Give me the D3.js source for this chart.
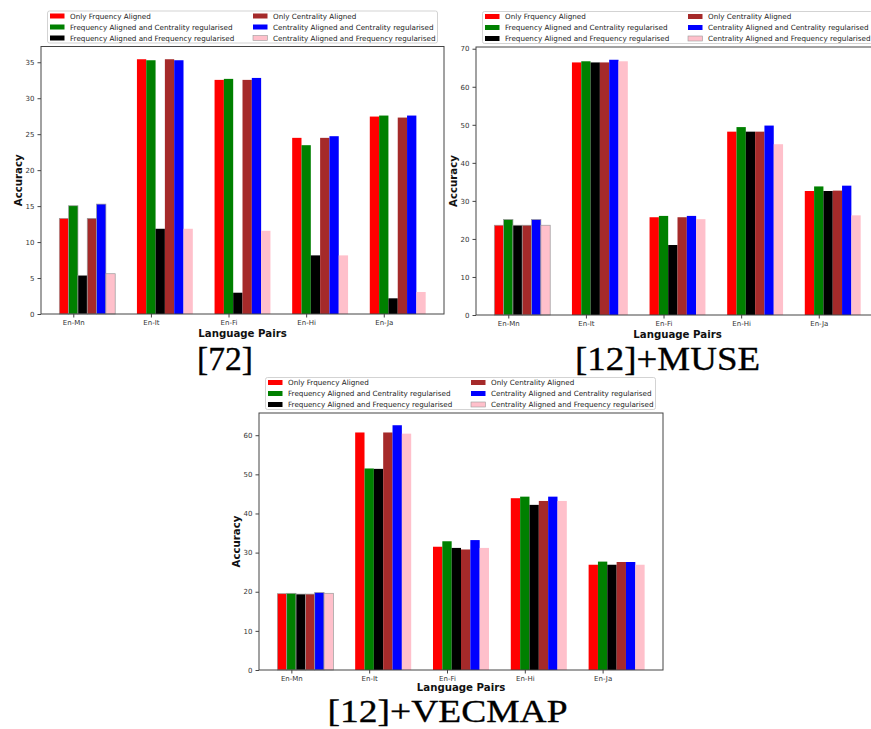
<!DOCTYPE html>
<html><head><meta charset="utf-8">
<script src="https://cdn.jsdelivr.net/npm/d3@7"></script>
<style>body{margin:0;background:#fff}svg{display:block}</style>
</head><body>
<script>
// ---------- data ----------
const categories = ["En-Mn", "En-It", "En-Fi", "En-Hi", "En-Ja"];
const seriesNames = [
  "Only Frquency Aligned",
  "Frequency Aligned and Centrality regularised",
  "Frequency Aligned and Frequency regularised",
  "Only Centrality Aligned",
  "Centrality Aligned and Centrality regularised",
  "Centrality Aligned and Frequency regularised"
];
const panelTitles = ["[72]", "[12]+MUSE", "[12]+VECMAP"];

// [72]
const onlyFreq72   = [13.3, 35.42, 32.55, 24.49, 27.45];
const freqCent72   = [15.05, 35.28, 32.69, 23.47, 27.59];
const freqFreq72   = [5.37, 11.85, 2.96, 8.15, 2.18];
const onlyCent72   = [13.3, 35.42, 32.55, 24.49, 27.31];
const centCent72   = [15.28, 35.28, 32.82, 24.72, 27.59];
const centFreq72   = [5.6, 11.85, 11.57, 8.15, 3.06];

// [12]+MUSE
const onlyFreqMuse = [23.6, 66.4, 25.7, 48.2, 32.6];
const freqCentMuse = [25.1, 66.7, 26.05, 49.4, 33.8];
const freqFreqMuse = [23.6, 66.4, 18.4, 48.2, 32.6];
const onlyCentMuse = [23.6, 66.4, 25.7, 48.2, 32.7];
const centCentMuse = [25.1, 67.1, 26.05, 49.8, 34.0];
const centFreqMuse = [23.6, 66.7, 25.2, 44.9, 26.2];

// [12]+VECMAP
const onlyFreqVec  = [19.5, 60.7, 31.5, 43.9, 26.9];
const freqCentVec  = [19.6, 51.5, 32.9, 44.3, 27.7];
const freqFreqVec  = [19.4, 51.4, 31.2, 42.2, 26.9];
const onlyCentVec  = [19.4, 60.7, 30.8, 43.2, 27.6];
const centCentVec  = [19.8, 62.55, 33.2, 44.3, 27.6];
const centFreqVec  = [19.6, 60.4, 31.2, 43.2, 26.9];

const yTicks72   = [0, 5, 10, 15, 20, 25, 30, 35];
const yTicksMuse = [0, 10, 20, 30, 40, 50, 60, 70];
const yTicksVec  = [0, 10, 20, 30, 40, 50, 60];

// ---------- styles / layout ----------
const colors = ["#ff0000", "#008000", "#000000", "#a52a2a", "#0000ff", "#ffc0cb"];
const FONT = "DejaVu Sans";
const W = 871, H = 729;

const svg = d3.select("body").append("svg").attr("width", W).attr("height", H)
  .style("font-family", FONT);
svg.append("rect").attr("width", W).attr("height", H).attr("fill", "#fff");

const panels = [
  {series: [onlyFreq72, freqCent72, freqFreq72, onlyCent72, centCent72, centFreq72],
   ticks: yTicks72, title: panelTitles[0], titleW: 56, titleSize: 34, labelGap: 22.5,
   left: 41, right: 444, top: 46.5, bottom: 314, titleX: 225, titleY: 369.5},
  {series: [onlyFreqMuse, freqCentMuse, freqFreqMuse, onlyCentMuse, centCentMuse, centFreqMuse],
   ticks: yTicksMuse, title: panelTitles[1], titleW: 185, titleSize: 34, labelGap: 22.5,
   left: 476, right: 879, top: 47, bottom: 315, titleX: 667.5, titleY: 369.5},
  {series: [onlyFreqVec, freqCentVec, freqFreqVec, onlyCentVec, centCentVec, centFreqVec],
   ticks: yTicksVec, title: panelTitles[2], titleW: 240, titleSize: 32, labelGap: 21,
   left: 259, right: 663, top: 413, bottom: 670, titleX: 447.5, titleY: 722}
];

const bw = 0.12;

panels.forEach(p => {
  const g = svg.append("g");
  const lo = -bw / 2, hi = (categories.length - 1) + 5 * bw + bw / 2;
  const m = 0.05 * (hi - lo);
  const x = d3.scaleLinear().domain([lo - m, hi + m]).range([p.left, p.right]);
  const ymax = d3.max(p.series.flat()) * 1.05;
  const y = d3.scaleLinear().domain([0, ymax]).range([p.bottom, p.top]);

  // bars
  p.series.forEach((vals, k) => {
    g.selectAll(null).data(vals).enter().append("rect")
      .attr("x", (d, i) => x(i + k * bw - bw / 2))
      .attr("width", x(bw) - x(0))
      .attr("y", d => y(d))
      .attr("height", d => y(0) - y(d))
      .attr("fill", colors[k])
      .attr("stroke", (d, i) => i === 0 ? "#9a9a9a" : "none")
      .attr("stroke-width", 0.7);
  });

  // frame
  g.append("rect").attr("x", p.left).attr("y", p.top)
    .attr("width", p.right - p.left).attr("height", p.bottom - p.top)
    .attr("fill", "none").attr("stroke", "#444").attr("stroke-width", 1);

  // y axis
  const ya = g.append("g").attr("transform", `translate(${p.left},0)`)
    .call(d3.axisLeft(y).tickValues(p.ticks).tickSize(3.5).tickPadding(3).tickFormat(d3.format("d")));
  ya.select(".domain").remove();
  ya.selectAll("line").attr("stroke", "#444");
  ya.selectAll("text").attr("font-size", 7).attr("fill", "#333").attr("font-family", FONT);

  // x axis
  const xa = g.append("g").attr("transform", `translate(0,${p.bottom})`)
    .call(d3.axisBottom(x).tickValues(categories.map((c, i) => i + bw))
      .tickSize(3.5).tickPadding(3).tickFormat((d, i) => categories[i]));
  xa.select(".domain").remove();
  xa.selectAll("line").attr("stroke", "#444");
  xa.selectAll("text").attr("font-size", 7).attr("fill", "#333").attr("font-family", FONT);

  // axis labels
  g.append("text").attr("x", (p.left + p.right) / 2).attr("y", p.bottom + p.labelGap)
    .attr("text-anchor", "middle").attr("font-weight", "bold").attr("font-size", 10.2)
    .attr("fill", "#111").text("Language Pairs");
  g.append("text").attr("transform", `translate(${p.left - 19.5},${(p.top + p.bottom) / 2}) rotate(-90)`)
    .attr("text-anchor", "middle").attr("font-weight", "bold").attr("font-size", 10.2)
    .attr("fill", "#111").text("Accuracy");

  // legend
  const lx = p.left + 6.5, ly = p.top - 35.5;
  const lg = g.append("g");
  lg.append("rect").attr("x", lx).attr("y", ly).attr("width", 390).attr("height", 32)
    .attr("rx", 2).attr("fill", "#fff").attr("fill-opacity", 0.9)
    .attr("stroke", "#c8c8c8").attr("stroke-width", 0.8);
  seriesNames.forEach((name, k) => {
    const col = Math.floor(k / 3), row = k % 3;
    const cx = lx + 2.5 + col * 203, cy = ly + 5 + row * 11;
    lg.append("rect").attr("x", cx).attr("y", cy - 2.5).attr("width", 14.5).attr("height", 5)
      .attr("fill", colors[k]).attr("stroke", k === 5 ? "#9a9a9a" : "none").attr("stroke-width", 0.6);
    lg.append("text").attr("x", cx + 20).attr("y", cy).attr("dy", "0.35em")
      .attr("font-size", 7.2).attr("fill", "#222").text(name);
  });

  // caption
  svg.append("text").attr("x", p.titleX).attr("y", p.titleY).attr("text-anchor", "middle")
    .attr("font-family", "Liberation Serif").attr("font-size", p.titleSize).attr("fill", "#000")
    .attr("stroke", "#000").attr("stroke-width", 0.35)
    .attr("textLength", p.titleW).attr("lengthAdjust", "spacingAndGlyphs")
    .text(p.title);
});
</script>
</body></html>
